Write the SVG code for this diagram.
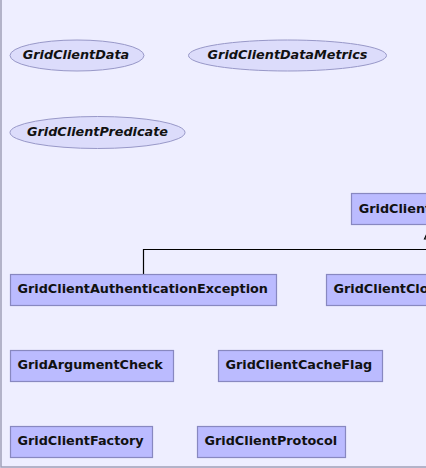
<svg xmlns="http://www.w3.org/2000/svg" width="426" height="468" viewBox="0 0 426 468">
<style>
.bg{fill:#eeeeff;stroke:none}
.frame{fill:none;stroke:#a0a0b8;stroke-width:1.5}
.cls rect{fill:#bbbbff;stroke:#8888c0;stroke-width:1.2}
.ifc ellipse{fill:#dcdcfb;stroke:#9898c8;stroke-width:1}
text{font-family:"DejaVu Sans",sans-serif;font-size:12.8px;font-weight:bold;fill:#111111}
.ifc text{font-style:italic;text-anchor:middle}
.edge{fill:none;stroke:#000000;stroke-width:1.2}
.arrow{fill:#eeeeff;stroke:#000000;stroke-width:1.2}
</style>
<rect class="bg" x="0" y="0" width="426" height="468"/>
<path class="frame" d="M1,0 V467 H426"/>
<g id="GridClientData" class="ifc"><ellipse cx="77" cy="55.5" rx="67" ry="15.5"/><text x="76" y="59">GridClientData</text></g>
<g id="GridClientDataMetrics" class="ifc"><ellipse cx="287.5" cy="55.5" rx="99" ry="15.5"/><text x="287.5" y="59">GridClientDataMetrics</text></g>
<g id="GridClientPredicate" class="ifc"><ellipse cx="97.5" cy="132.5" rx="87.5" ry="16"/><text x="97.5" y="136">GridClientPredicate</text></g>
<g id="connectors">
<path class="edge" d="M143.5,274 V249.5 H429.5 V239"/>
<polygon class="arrow" points="424.5,239 434.5,239 429.5,228"/>
</g>
<g id="GridClientException" class="cls"><rect x="351.5" y="193.5" width="158" height="31"/><text x="358.7" y="212.5">GridClientException</text></g>
<g id="GridClientAuthenticationException" class="cls"><rect x="10.5" y="274.5" width="266" height="31"/><text x="17.5" y="292.8">GridClientAuthenticationException</text></g>
<g id="GridClientClosedException" class="cls"><rect x="326.5" y="274.5" width="206" height="31"/><text x="333.5" y="292.8">GridClientClosedException</text></g>
<g id="GridArgumentCheck" class="cls"><rect x="10.5" y="350.5" width="163" height="31"/><text x="17.5" y="368.8">GridArgumentCheck</text></g>
<g id="GridClientCacheFlag" class="cls"><rect x="218.5" y="350.5" width="164" height="31"/><text x="225.5" y="368.8">GridClientCacheFlag</text></g>
<g id="GridClientFactory" class="cls"><rect x="10.5" y="426.5" width="142" height="31"/><text x="17.5" y="444.8">GridClientFactory</text></g>
<g id="GridClientProtocol" class="cls"><rect x="197.5" y="426.5" width="148" height="31"/><text x="204.5" y="444.8">GridClientProtocol</text></g>
</svg>
